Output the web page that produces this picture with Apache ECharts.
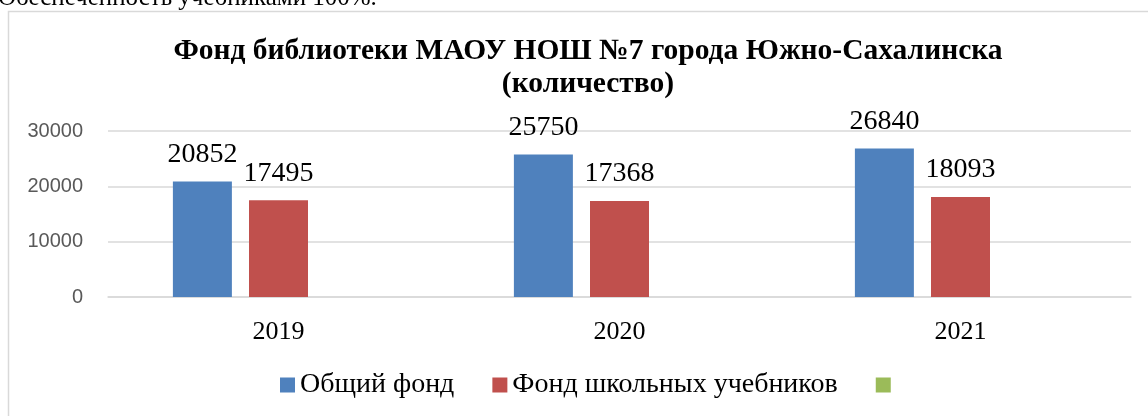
<!DOCTYPE html>
<html>
<head>
<meta charset="utf-8">
<script src="https://cdn.jsdelivr.net/npm/echarts@6/dist/echarts.min.js"></script>
<style>
  html, body { margin: 0; padding: 0; background: #fff; }
  #chart { width: 1148px; height: 416px; }
</style>
</head>
<body>
<div id="chart"></div>
<script>
const years = ['2019', '2020', '2021']
const obshiy = [20852, 25750, 26840]
const uchebniki = [17495, 17368, 18093]
const pustoy = [null, null, null]
const yTicks = [0, 10000, 20000, 30000]

const serif = '"Liberation Serif", "Times New Roman", serif'
const chart = echarts.init(document.getElementById('chart'))

const barLabel = {
  show: true,
  position: 'top',
  distance: 13,
  color: '#000',
  fontFamily: serif,
  fontSize: 28
}

const option = {
  animation: false,
  backgroundColor: '#fff',
  title: {
    text: 'Фонд библиотеки МАОУ НОШ №7 города Южно-Сахалинска\n(количество)',
    left: 583,
    textAlign: 'center',
    top: 30,
    textStyle: {
      fontFamily: serif,
      fontWeight: 'bold',
      fontSize: 29.5,
      lineHeight: 33,
      color: '#000'
    }
  },
  graphic: [
    {
      type: 'text',
      x: -2,
      y: 11,
      style: {
        text: 'Обеспеченность учебниками 100%.',
        fontFamily: serif,
        fontSize: 25,
        fill: '#000',
        verticalAlign: 'bottom'
      }
    },
    {
      type: 'rect',
      shape: { x: 8.5, y: 11.5, width: 1200, height: 500 },
      style: { fill: 'none', stroke: '#D9D9D9', lineWidth: 1.5 },
      z: -1
    }
  ],
  legend: {
    left: 280,
    top: 371,
    padding: 0,
    itemWidth: 15,
    itemHeight: 15,
    itemGap: 38,
    icon: 'rect',
    data: ['Общий фонд', 'Фонд школьных учебников', ' '],
    textStyle: {
      fontFamily: serif,
      fontSize: 28,
      color: '#000'
    }
  },
  grid: {
    left: 108,
    right: 17,
    top: 131,
    bottom: 119
  },
  xAxis: {
    type: 'category',
    data: years,
    axisTick: { show: false },
    axisLine: { lineStyle: { color: '#D9D9D9', width: 1.5 } },
    axisLabel: {
      margin: 22,
      color: '#000',
      fontFamily: serif,
      fontSize: 26
    }
  },
  yAxis: {
    type: 'value',
    min: yTicks[0],
    max: yTicks[yTicks.length - 1],
    interval: yTicks[1] - yTicks[0],
    axisLine: { show: false },
    axisTick: { show: false },
    splitLine: { lineStyle: { color: '#D9D9D9', width: 1.5 } },
    axisLabel: {
      margin: 25,
      color: '#595959',
      fontFamily: '"Liberation Sans", Arial, sans-serif',
      fontSize: 20,
      formatter: function (v) {
        return String(v)
      }
    }
  },
  series: [
    {
      name: 'Общий фонд',
      type: 'bar',
      data: obshiy,
      barWidth: 59,
      barGap: '29%',
      itemStyle: { color: '#4F81BD' },
      label: barLabel
    },
    {
      name: 'Фонд школьных учебников',
      type: 'bar',
      data: uchebniki,
      barWidth: 59,
      barGap: '29%',
      itemStyle: { color: '#C0504D' },
      label: barLabel
    },
    {
      name: ' ',
      type: 'bar',
      data: pustoy,
      barWidth: 59,
      barGap: '29%',
      itemStyle: { color: '#9BBB59' }
    }
  ]
}

chart.setOption(option)
</script>
</body>
</html>
